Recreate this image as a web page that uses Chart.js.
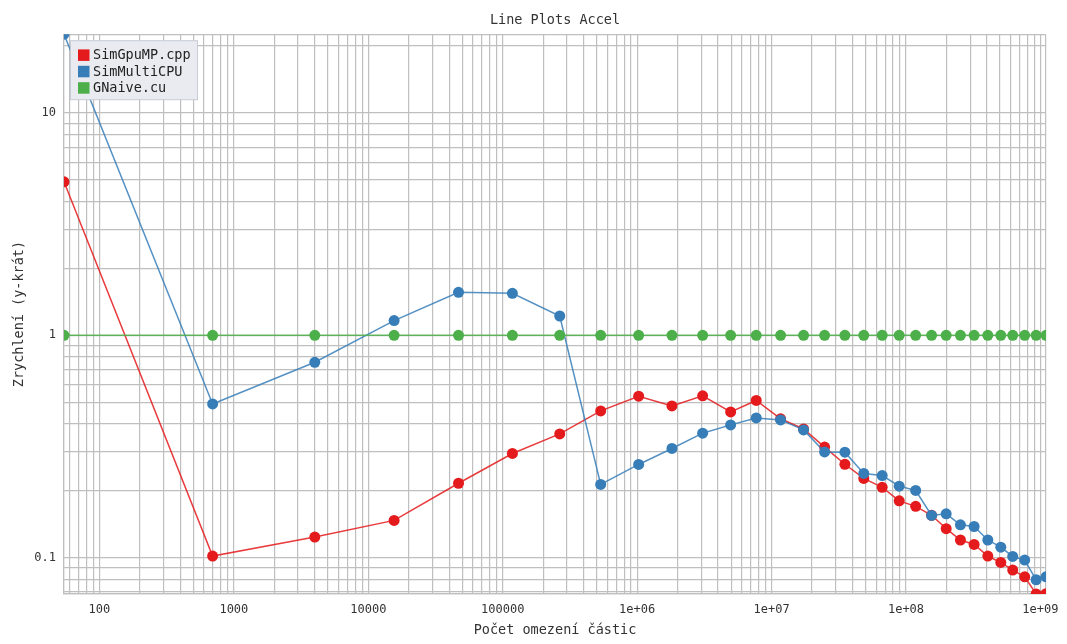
<!DOCTYPE html>
<html>
<head>
<meta charset="utf-8">
<title>Line Plots Accel</title>
<script src="https://cdn.jsdelivr.net/npm/chart.js@4.4.1/dist/chart.umd.min.js"></script>
<style>
  html, body { margin: 0; padding: 0; background: #fff; }
</style>
</head>
<body>
<canvas id="grafAccel" width="1067" height="644"></canvas>
<script>
// Počet částic (osa x, logaritmická)
const pocetCastic = [54.5, 695, 4000, 15560, 46900, 118000, 265500, 535500, 1026000, 1815000,
    3070000, 4960000, 7690000, 11670000, 17300000, 24800000, 35100000, 48500000, 66500000,
    89000000, 118000000, 155000000, 199000000, 254000000, 321000000, 406000000, 507000000,
    622000000, 764000000, 929000000, 1100000000];

// Zrychlení jednotlivých implementací
const simGpuMP = [4.9, 0.1016, 0.1237, 0.147, 0.216, 0.294, 0.360, 0.457, 0.532, 0.481,
    0.534, 0.452, 0.509, 0.421, 0.379, 0.314, 0.263, 0.227, 0.207, 0.180,
    0.170, 0.155, 0.135, 0.120, 0.1146, 0.1016, 0.0951, 0.0879, 0.0820, 0.0686, 0.0688];

const simMultiCPU = [22.6, 0.491, 0.756, 1.164, 1.56, 1.545, 1.221, 0.2134, 0.2624, 0.3097,
    0.3627, 0.3953, 0.4249, 0.4163, 0.3754, 0.2988, 0.2979, 0.239, 0.234, 0.2096,
    0.2004, 0.1548, 0.1573, 0.1405, 0.138, 0.120, 0.1114, 0.1012, 0.0975, 0.0795, 0.0820];

const gNaive = [1, 1, 1, 1, 1, 1, 1, 1, 1, 1, 1, 1, 1, 1, 1, 1, 1, 1, 1, 1,
    1, 1, 1, 1, 1, 1, 1, 1, 1, 1, 1];

// Popisky hlavních značek
const xZnacky = [1e2, 1e3, 1e4, 1e5, 1e6, 1e7, 1e8, 1e9];
const xPopisky = ['100', '1000', '10000', '100000', '1e+06', '1e+07', '1e+08', '1e+09'];
const yZnacky = [0.1, 1, 10];
const yPopisky = ['0.1', '1', '10'];

const pismo = "'DejaVu Sans Mono', 'Liberation Mono', monospace";
const barvaMrizky = '#bfbfbf';

function body(hodnoty) {
    return pocetCastic.map((x, i) => ({ x: x, y: hodnoty[i] }));
}

// Značky 1..9 * 10^n v rozsahu osy (bez mezikroku 1.5 z Chart.js)
function logZnacky(scale) {
    const ticks = [{ value: scale.min }];
    const eMin = Math.floor(Math.log10(scale.min));
    const eMax = Math.ceil(Math.log10(scale.max));
    for (let e = eMin; e <= eMax; e++) {
        for (let s = 1; s <= 9; s++) {
            const v = Number((s * Math.pow(10, e)).toPrecision(6));
            if (v > scale.min && v < scale.max) ticks.push({ value: v, major: s === 1 });
        }
    }
    ticks.push({ value: scale.max });
    scale.ticks = ticks;
}

function popisek(znacky, popisky) {
    return function (value) {
        for (let i = 0; i < znacky.length; i++) {
            if (Math.abs(value / znacky[i] - 1) < 1e-6) return popisky[i];
        }
        return '';
    };
}

const vsechnyY = simGpuMP.concat(simMultiCPU, gNaive);

// Legenda uvnitř grafu (vlevo nahoře)
const legendaVlastni = {
    id: 'legendaVlastni',
    afterDatasetsDraw(chart) {
        const ctx = chart.ctx;
        const a = chart.chartArea;
        const x0 = a.left + 6.5, y0 = a.top + 6.5;
        const w = 127, h = 59;
        ctx.save();
        ctx.fillStyle = '#e9ebf0';
        ctx.strokeStyle = '#c8ccd6';
        ctx.lineWidth = 1;
        ctx.fillRect(x0, y0, w, h);
        ctx.strokeRect(x0, y0, w, h);
        ctx.font = '13.5px ' + pismo;
        ctx.textBaseline = 'middle';
        chart.data.datasets.forEach((ds, i) => {
            const cy = y0 + 14.5 + i * 16.4;
            ctx.fillStyle = ds.pointBackgroundColor;
            ctx.fillRect(x0 + 7.5, cy - 5.8, 11.5, 11.5);
            ctx.fillStyle = '#222';
            ctx.fillText(ds.label, x0 + 22.5, cy + 0.5);
        });
        ctx.restore();
    }
};

const ctx = document.getElementById('grafAccel').getContext('2d');

new Chart(ctx, {
    type: 'line',
    data: {
        datasets: [{
            label: 'SimGpuMP.cpp',
            data: body(simGpuMP),
            borderColor: 'rgba(228, 26, 28, 0.85)',
            pointBackgroundColor: '#e41a1c',
            order: 3
        }, {
            label: 'SimMultiCPU',
            data: body(simMultiCPU),
            borderColor: 'rgba(55, 126, 184, 0.85)',
            pointBackgroundColor: '#377eb8',
            order: 2
        }, {
            label: 'GNaive.cu',
            data: body(gNaive),
            borderColor: 'rgba(77, 175, 74, 0.85)',
            pointBackgroundColor: '#4daf4a',
            order: 1
        }]
    },
    options: {
        responsive: false,
        animation: false,
        events: [],
        layout: { padding: { left: 0, right: 21, top: 0, bottom: 0 } },
        elements: {
            line: { borderWidth: 1.5, tension: 0 },
            point: { radius: 5.5, borderWidth: 0, hoverRadius: 5.5 }
        },
        plugins: {
            legend: { display: false },
            tooltip: { enabled: false },
            title: {
                display: true,
                fullSize: false,
                text: 'Line Plots Accel',
                color: '#333',
                font: { family: pismo, size: 13.5, weight: 'normal' },
                padding: { top: 12, bottom: 6 }
            }
        },
        scales: {
            x: {
                type: 'logarithmic',
                min: pocetCastic[0],
                max: pocetCastic[pocetCastic.length - 1],
                afterBuildTicks: logZnacky,
                afterFit: s => { s.height = 50; },
                grid: { color: barvaMrizky, lineWidth: 1.2, drawTicks: false },
                border: { color: barvaMrizky, width: 1.2 },
                ticks: {
                    autoSkip: false,
                    maxRotation: 0,
                    padding: 9,
                    color: '#333',
                    font: { family: pismo, size: 12 },
                    callback: popisek(xZnacky, xPopisky)
                },
                title: {
                    display: true,
                    text: 'Počet omezení částic',
                    color: '#333',
                    font: { family: pismo, size: 13.5 },
                    padding: { top: 0, bottom: 5 }
                }
            },
            y: {
                type: 'logarithmic',
                min: Math.min(...vsechnyY),
                max: Math.max(...vsechnyY),
                afterBuildTicks: logZnacky,
                afterFit: s => { s.width = 64; },
                grid: { color: barvaMrizky, lineWidth: 1.2, drawTicks: false },
                border: { color: barvaMrizky, width: 1.2 },
                ticks: {
                    autoSkip: false,
                    padding: 8,
                    color: '#333',
                    font: { family: pismo, size: 12 },
                    callback: popisek(yZnacky, yPopisky)
                },
                title: {
                    display: true,
                    text: 'Zrychlení (y-krát)',
                    color: '#333',
                    font: { family: pismo, size: 13.5 },
                    padding: { top: 11, bottom: 0 }
                }
            }
        }
    },
    plugins: [legendaVlastni]
});
</script>
</body>
</html>
